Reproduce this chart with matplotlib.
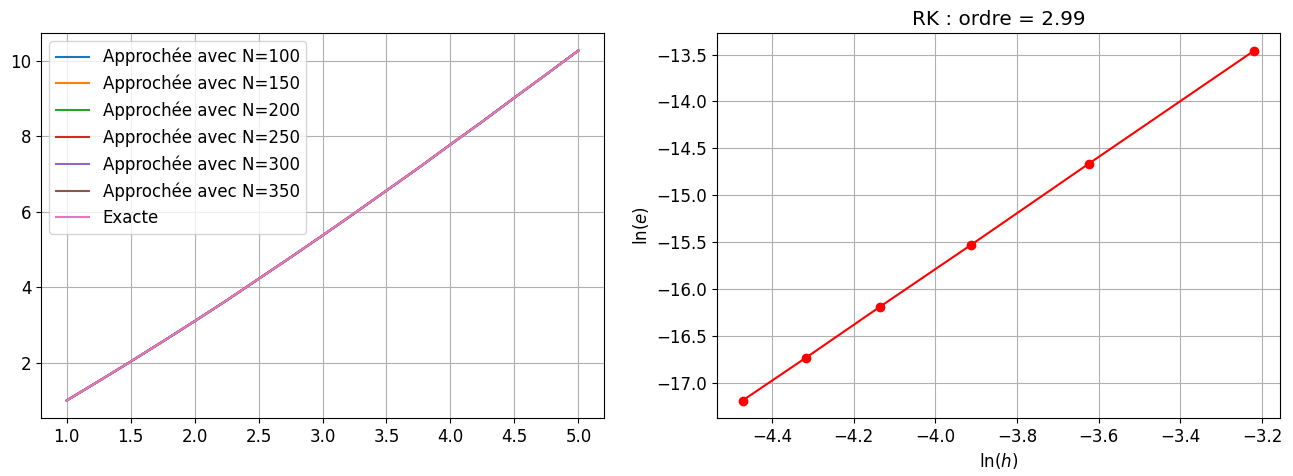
import matplotlib
matplotlib.use("Agg")
import matplotlib.pyplot as plt

plt.rcParams['font.size'] = 12

# Left panel: solution curves (all approximations overlap the exact one)
x_vals = [1.0, 1.25, 1.5, 1.75, 2.0, 2.25, 2.5, 2.75, 3.0, 3.25, 3.5, 3.75,
          4.0, 4.25, 4.5, 4.75, 5.0]
y_exact = [1.00, 1.51, 2.03, 2.56, 3.10, 3.65, 4.22, 4.79, 5.37, 5.96, 6.56,
           7.16, 7.78, 8.39, 9.02, 9.64, 10.27]
N_values = [100, 150, 200, 250, 300, 350]

# Right panel: convergence
ln_h = [-3.219, -3.624, -3.912, -4.135, -4.317, -4.472]
ln_e = [-13.457, -14.663, -15.528, -16.188, -16.734, -17.19]
ordre = 2.99

fig = plt.figure(figsize=(12.93, 4.76), dpi=100)
ax1 = fig.add_axes([41/1293, 58/476, 563/1293, 385/476])
ax2 = fig.add_axes([717/1293, 58/476, 563/1293, 385/476])

for N in N_values:
    ax1.plot(x_vals, y_exact, label=f"Approchée avec N={N}")
ax1.plot(x_vals, y_exact, label="Exacte")
ax1.legend(loc="upper left")
ax1.grid(True)

ax2.plot(ln_h, ln_e, 'ro-')
ax2.set_xlabel(r"ln($h$)")
ax2.set_ylabel(r"ln($e$)")
ax2.set_title(f"RK : ordre = {ordre}")
ax2.grid(True)

fig.savefig("out.png", dpi=100)
